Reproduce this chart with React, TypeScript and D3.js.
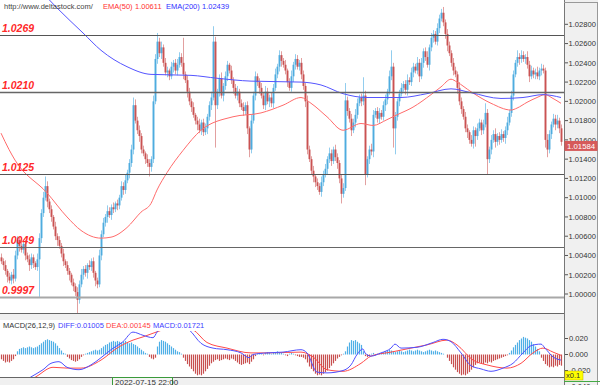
import React, { useRef, useEffect } from 'react';
import * as d3 from 'd3';

// ---- data (prices in pips above 1.0000) ----
const firstOpenPips = 38;
const closePips = [34,30,24,18,14,20,16, 40,56, 50,46,52, 40,36,30,38,32,28,36, 58,84,100, 112,96, 88,80,70,60,56, 50,42,34,30,24, 20,12,8,2,-6, 10,20,26,22,30, 28,34,22,14,10, 40,62,74, 80,86,82,90,88,94,92, 100,112,108,118,126, 136,150,196, 180,170,164,150,146,140,136,132, 140, 200, 244, 262,250,256, 240,230,232,226, 236,240,232,238,246,240, 228, 222,210,200,194,186,180, 176,170,178,168,172, 184,196,204, 262, 196, 210,224,206,216, 226,238,232, 222,214,206,210,198,194,190,196, 172,150, 180,206,226,220,214, 206,196,210,200,204,198, 214,228,236,248,242,238, 232,220,214, 226,238,244,236,240, 228,216,200, 150, 140,128,122,116,112,106, 116,124,130, 140,146,138,150,142,136, 120,104, 110, 201, 190,182,170,178,186, 198,204,200,206, 124, 140,150,148, 186,190,182,188,184, 196,202,210, 226,236, 172, 184,200,208,214, 218,212,222,220, 230,236,232,240, 226, 240,252,246,238, 256,266,270, 262, 276,286,292, 282,270,258,250, 240,232,228, 214,200,192, 184,172,168, 160,156, 170,164, 172,178,170,176, 188, 140, 150,160,166, 158,164,160,166,162, 170,178,188, 206, 228, 240,246,244, 248,244,246, 238,226, 232,228,230,226,232, 234, 232, 160, 150,166,176, 182,176,180, 172,158];
const upperWick = [4,3,5,2,4,3,6,5,4,3, 5,2,4,3,5,4,3,2,6,5, 4,6,10,5,3,4,2,5,3,4, 3,5,2,4,3,2,4,3,5,4, 6,3,4,2,5,3,4,2,3,6, 4,5,3,6,4,3,5,2,4,3, 5,4,6,3,4,5,8,6,4,5, 3,4,2,5,4,3,6,5,9,4, 6,3,5,4,2,5,3,4,6,5, 4,26,3,5,4,3,5,2,4,6, 3,4,5,3,4,6,16,5,3,4, 6,3,5,4,2,5,3,4,6,3, 4,5,3,4,2,6,4,5,3,4, 5,3,6,4,3,5,4,6,3,5, 4,3,5,2,4,6,3,5,4,3, 5,4,3,6,4,3,5,2,4,3, 6,4,5,3,6,4,3,5,4,3, 4,5,18,4,3,5,4,6,5,3, 4,19,5,3,4,6,5,3,4,5, 3,4,5,3,6,17,4,5,3,4, 5,3,4,6,3,5,4,3,6,4, 5,3,4,6,3,5,4,3,5,4, 4,6,3,5,4,3,5,4,3,6, 4,3,5,4,2,5,4,3,5,4, 3,5,10,4,3,5,4,6,3,4, 5,3,4,6,3,5,4,3,7,4, 5,4,3,6,4,5,3,4,6,3, 5,4,3,6,4,3,5,4,6,3, 4];
const lowerWick = [3,5,4,6,3,4,5,3,4,6, 3,4,5,3,6,4,5,3,4,39, 5,4,3,6,4,5,3,4,6,3, 4,5,3,4,6,3,5,4,14,4, 3,5,4,6,3,4,5,6,4,3, 5,3,4,6,3,5,4,3,5,4, 3,5,4,3,6,4,5,3,4,6, 4,3,5,4,10,5,4,3,5,4, 6,4,3,5,4,3,6,4,5,3, 4,5,3,6,4,5,3,4,6,3, 5,4,3,6,4,5,3,44,4,5, 3,6,4,5,3,4,6,3,5,4, 3,5,4,6,8,4,3,5,4,6, 3,4,5,3,6,4,5,3,4,5, 6,3,4,5,3,4,6,5,3,4, 5,4,6,5,3,4,6,5,4,3, 5,4,3,6,4,5,3,4,6,5, 10,4,3,5,4,6,3,5,4,3, 5,4,11,3,5,4,6,3,4,5, 3,4,6,5,3,4,20,27,4,5, 3,4,5,6,3,4,5,3,4,6, 3,5,4,3,6,4,5,3,4,5, 3,4,5,6,3,4,5,3,6,4, 5,3,4,6,4,3,5,11,4,3, 5,4,3,16,4,5,3,6,4,5, 3,4,6,5,3,4,5,3,4,6, 4,3,5,4,6,3,4,5,3,4, 5,3,8,8,4,5,3,6,4,5, 4];

const ema50Idx = [0,4,7,23,33,40,50,55,63,70,75,78,83,91,100,116,130,141,150,155,163,171,180,186,193,198,206,215,220,225,228,235,245,255,258,263,268,272,276,280];
const ema50Pips = [167,150,139,105,80,66,58,59,69,85,94,108,126,149,170,184,188,196,204,198,184,170,177,175,181,186,194,207,215,223,220,210,198,191,193,199,204,207,203,198];
const ema200Idx = [22,28,41,50,63,75,95,108,125,150,160,171,183,200,213,225,235,250,261,271,280];
const ema200Pips = [310,297,271,253,236,228,227,224,221,220,217,208,204,204,208,213,209,203,204,207,204];

const levelValues = [1.0269, 1.0210, 1.0125, 1.0049, 0.9997];
const levelLabels = ['1.0269', '1.0210', '1.0125', '1.0049', '0.9997'];
const priceTicks = [1.028,1.026,1.024,1.022,1.020,1.018,1.016,1.014,1.012,1.010,1.008,1.006,1.004,1.002,1.000];
const lastPrice = 1.01584;

const macdHist = [-0.006,-0.008,-0.010,-0.009,-0.010,-0.008,-0.006, -0.002,
 0.004,0.007,0.008,0.009,0.008,0.009,0.010,0.009,0.008,0.009,0.010,
 0.012,0.014,0.016,0.018,0.019,0.018,0.017,0.016,0.014,0.011,0.008,0.005,
 0.002,0.001, -0.003,-0.005,-0.007,-0.008,-0.009,-0.008,-0.006,
 -0.003,-0.001,0.001,0.002, 0.003,0.004,0.005,0.006,0.005,0.006,
 0.008,0.010,0.012,0.013,0.015,0.016,0.017,0.016,0.017,0.016,0.015,0.016,0.017,0.015,0.014,0.015,0.013,0.012,0.010,0.008,
 0.006,0.004,0.002,0.001, -0.003,-0.005,-0.006,-0.004,
 0.010,0.016,0.018,0.017,0.016,0.014, 0.012,0.010,0.008,0.006,0.004,0.003,0.001,
 -0.004,-0.008,-0.012,-0.015,-0.018,-0.021,-0.024,-0.026,-0.025,-0.026,-0.024,-0.021,-0.018,-0.014,-0.011,-0.009,
 -0.007,-0.006,-0.008,-0.007,-0.006,-0.005,-0.006,-0.007,-0.005,-0.006,
 -0.008,-0.010,-0.012,-0.013,-0.012,-0.011,-0.010,-0.012,-0.009,-0.006,
 -0.002,0.001,0.002,0.001,-0.001,0.002,0.003,0.002,0.001,0.002,0.003,0.004,0.003,0.002,0.001,-0.001,-0.002,0.001,0.002,0.001,-0.001,-0.002,-0.003,
 -0.003,-0.004,-0.006,-0.010,-0.015,
 -0.018,-0.021,-0.024,-0.026,-0.025,-0.026,-0.024,-0.022,-0.020,-0.017,-0.014,-0.011,-0.008,-0.005,
 -0.003,-0.001,0.001,0.004, 0.010,0.015,0.018,0.017,0.018,0.016,0.014,0.012,
 0.004,-0.002,-0.003,-0.002,0.001,0.002,-0.001,0.001,0.002,
 0.002,0.003,0.004,0.005,0.006,0.005,0.004,0.003,0.004,0.005,0.004,0.003,0.004,0.005,0.006,0.005,0.004,0.005,0.006,0.005,0.004,0.003,0.004,0.005,0.006,0.005,0.004,0.005,0.004,0.003,0.002,0.001,0.000,
 -0.004,-0.008,-0.012,-0.016,-0.019,-0.022,-0.024,-0.026,-0.025,-0.026,-0.024,-0.022,-0.019,-0.016,-0.013,-0.011,
 -0.010,-0.011,-0.012,-0.010,-0.011,-0.009,-0.010,-0.008,-0.007,-0.006,-0.005,-0.004,-0.003,-0.002,-0.001,
 0.002,0.005,0.009,0.012,0.015,0.018,0.020,0.022,0.021,0.020,0.018,0.016,0.013,0.010,0.007,0.004,
 -0.004,-0.008,-0.012,-0.014,-0.016,-0.015,-0.016,-0.014,-0.015,-0.013,-0.014];

const diffIdx = [0,8,15,21,25,29,33,39,45,50,55,61,66,71,76,78,80,85,90,94,100,106,113,120,124,126,133,141,150,153,158,163,171,175,178,181,182,185,190,195,197,200,208,216,221,225,230,235,240,245,251,256,261,265,270,272,276,280];
const diffVals = [-0.05,-0.04,-0.028,-0.019,-0.011,-0.009,-0.016,-0.019,-0.013,-0.004,0.006,0.016,0.028,0.024,0.021,0.028,0.035,0.038,0.036,0.031,0.014,0.008,0.006,0.002,-0.004,0.000,0.002,0.003,0.006,0.002,-0.022,-0.023,-0.020,-0.013,0.000,0.007,0.002,-0.002,0.002,0.008,0.013,0.008,0.009,0.015,0.019,0.016,0.002,-0.014,-0.018,-0.021,-0.017,-0.011,0.002,0.011,0.013,0.008,-0.003,-0.007];
const deaIdx = [0,10,18,26,33,40,50,58,66,71,81,88,96,103,113,125,133,150,156,163,171,180,185,195,205,213,223,228,236,243,253,260,266,271,276,280];
const deaVals = [-0.05,-0.04,-0.027,-0.016,-0.017,-0.017,-0.007,0.008,0.018,0.022,0.031,0.036,0.031,0.015,0.008,0.002,0.002,0.003,-0.003,-0.019,-0.021,-0.011,-0.002,0.003,0.008,0.012,0.018,0.012,-0.007,-0.013,-0.017,-0.011,0.002,0.008,0.003,-0.001];
const macdTicks = [0.02, 0, -0.02, -0.04];
const macdTickLabels = ['0.020', '0.000', '-0.020', '-0.040'];

const UP_BODY = '#42a6dc', UP_WICK = '#92cdee', DN_BODY = '#c64444', DN_WICK = '#e2a0a0';
const FONT = 'Liberation Sans, Arial, sans-serif';

export default function App() {
  const ref = useRef<SVGSVGElement>(null);
  useEffect(() => {
    const svg = d3.select(ref.current);
    svg.selectAll('*').remove();
    const N = closePips.length;
    const toP = (p: number) => 1 + p / 10000;
    const x = d3.scaleLinear().domain([0, N - 1]).range([1, 561]);
    const y = d3.scaleLinear().domain([1.0, 1.028]).range([294, 24.3]);
    const ym = d3.scaleLinear().domain([-0.02, 0.02]).range([370.5, 338.5]);
    const px = (i: number) => Math.round(x(i));

    const defs = svg.append('defs');
    defs.append('clipPath').attr('id', 'mainClip').append('rect').attr('x', 0).attr('y', 0).attr('width', 564).attr('height', 313);
    defs.append('clipPath').attr('id', 'macdClip').append('rect').attr('x', 0).attr('y', 320).attr('width', 564).attr('height', 57);

    svg.append('rect').attr('width', 600).attr('height', 385).attr('fill', '#fff');
    svg.append('rect').attr('x', 0).attr('y', 313).attr('width', 564).attr('height', 7).attr('fill', '#f0f0f0');
    svg.append('rect').attr('x', 0).attr('y', 377).attr('width', 564).attr('height', 8).attr('fill', '#f0f0f0');

    const main = svg.append('g').attr('clip-path', 'url(#mainClip)');
    const candles = closePips.map((c, i) => {
      const o = i === 0 ? firstOpenPips : closePips[i - 1];
      return { i, o: toP(o), c: toP(c), h: toP(Math.max(o, c) + upperWick[i]), l: toP(Math.min(o, c) - lowerWick[i]) };
    });
    main.selectAll('line.wick').data(candles).enter().append('line')
      .attr('x1', d => px(d.i) + 0.5).attr('x2', d => px(d.i) + 0.5)
      .attr('y1', d => y(d.h)).attr('y2', d => y(d.l))
      .attr('stroke', d => d.c >= d.o ? UP_WICK : DN_WICK).attr('stroke-width', 1);
    main.selectAll('rect.body').data(candles).enter().append('rect')
      .attr('x', d => px(d.i) - 0.5).attr('width', 2)
      .attr('y', d => y(Math.max(d.o, d.c)))
      .attr('height', d => Math.max(1, Math.abs(y(d.o) - y(d.c))))
      .attr('fill', d => d.c >= d.o ? UP_BODY : DN_BODY).attr('opacity', 0.85);

    const lineGen = d3.line<[number, number]>().x(d => x(d[0])).y(d => y(toP(d[1]))).curve(d3.curveMonotoneX);
    main.append('path').datum(ema50Idx.map((v, k) => [v, ema50Pips[k]] as [number, number]))
      .attr('d', lineGen).attr('fill', 'none').attr('stroke', '#ff6b6b').attr('stroke-width', 1);
    main.append('path').datum(ema200Idx.map((v, k) => [v, ema200Pips[k]] as [number, number]))
      .attr('d', lineGen).attr('fill', 'none').attr('stroke', '#5555ff').attr('stroke-width', 1);

    const levelStroke = ['#555', '#666', '#555', '#666', '#a8a8a8'];
    const levelWidth = [1, 1.3, 1, 1.2, 2];
    levelValues.forEach((v, k) => {
      const yy = Math.round(y(v)) + 0.5;
      main.append('line').attr('x1', 0).attr('x2', 564).attr('y1', yy).attr('y2', yy)
        .attr('stroke', levelStroke[k]).attr('stroke-width', levelWidth[k]);
      main.append('text').attr('x', 2).attr('y', yy - 4).text(levelLabels[k])
        .attr('font-family', FONT).attr('font-size', 10.5).attr('font-weight', 'bold').attr('font-style', 'italic').attr('fill', '#ff2a2a');
    });

    const hdr = svg.append('text').attr('y', 9).attr('font-family', FONT).attr('font-size', 7.5);
    hdr.append('tspan').attr('x', 4).attr('fill', '#444').text('http://www.deltastock.com/');
    hdr.append('tspan').attr('x', 103).attr('fill', '#ff3030').text('EMA(50)');
    hdr.append('tspan').attr('x', 135).attr('fill', '#ff3030').text('1.00611');
    hdr.append('tspan').attr('x', 166).attr('fill', '#3030ff').text('EMA(200)');
    hdr.append('tspan').attr('x', 202).attr('fill', '#3030ff').text('1.02439');

    const mg = svg.append('g').attr('clip-path', 'url(#macdClip)');
    mg.selectAll('line.hist').data(macdHist).enter().append('line')
      .attr('x1', (d, i) => px(i) + 0.5).attr('x2', (d, i) => px(i) + 0.5)
      .attr('y1', ym(0)).attr('y2', d => ym(d))
      .attr('stroke', d => d >= 0 ? '#4fb0e6' : '#c85050').attr('stroke-width', 1.2);
    const mLine = d3.line<[number, number]>().x(d => x(d[0])).y(d => ym(d[1])).curve(d3.curveMonotoneX);
    mg.append('path').datum(deaIdx.map((v, k) => [v, deaVals[k]] as [number, number]))
      .attr('d', mLine).attr('fill', 'none').attr('stroke', '#ff4a4a').attr('stroke-width', 1);
    mg.append('path').datum(diffIdx.map((v, k) => [v, diffVals[k]] as [number, number]))
      .attr('d', mLine).attr('fill', 'none').attr('stroke', '#5050ff').attr('stroke-width', 1);

    svg.append('rect').attr('x', 0).attr('y', 320).attr('width', 200).attr('height', 11).attr('fill', '#fff');
    const mt = svg.append('text').attr('y', 328).attr('font-family', FONT).attr('font-size', 7.5);
    mt.append('tspan').attr('x', 3).attr('fill', '#333').text('MACD(26,12,9)');
    mt.append('tspan').attr('x', 58).attr('fill', '#4040ff').text('DIFF:0.01005');
    mt.append('tspan').attr('x', 106).attr('fill', '#ff4040').text('DEA:0.00145');
    mt.append('tspan').attr('x', 153).attr('fill', '#4040ff').text('MACD:0.01721');

    svg.append('line').attr('x1', 0).attr('x2', 564).attr('y1', 313.5).attr('y2', 313.5).attr('stroke', '#666');
    svg.append('line').attr('x1', 0).attr('x2', 564).attr('y1', 377.5).attr('y2', 377.5).attr('stroke', '#666');

    svg.append('rect').attr('x', 564).attr('y', 0).attr('width', 34).attr('height', 385).attr('fill', '#f0f0f0');
    svg.append('line').attr('x1', 564.5).attr('x2', 564.5).attr('y1', 0).attr('y2', 385).attr('stroke', '#777');
    svg.append('line').attr('x1', 597.5).attr('x2', 597.5).attr('y1', 2).attr('y2', 385).attr('stroke', '#999');
    svg.append('line').attr('x1', 564).attr('x2', 598).attr('y1', 2.5).attr('y2', 2.5).attr('stroke', '#999');
    priceTicks.forEach(t => {
      svg.append('line').attr('x1', 565).attr('x2', 568).attr('y1', y(t)).attr('y2', y(t)).attr('stroke', '#555');
      svg.append('text').attr('x', 568.5).attr('y', y(t) + 2.8).text(t.toFixed(5))
        .attr('font-family', FONT).attr('font-size', 7.6).attr('fill', '#333');
    });
    macdTicks.forEach((t, k) => {
      svg.append('line').attr('x1', 565).attr('x2', 568).attr('y1', ym(t)).attr('y2', ym(t)).attr('stroke', '#555');
      svg.append('text').attr('x', 569).attr('y', ym(t) + 2.8).text(macdTickLabels[k])
        .attr('font-family', FONT).attr('font-size', 7.6).attr('fill', '#333');
    });
    svg.append('line').attr('x1', 564).attr('x2', 600).attr('y1', 381.5).attr('y2', 381.5).attr('stroke', '#4a4');
    svg.append('rect').attr('x', 564.5).attr('y', y(lastPrice) - 0.5).attr('width', 33).attr('height', 10).attr('fill', '#d65a5a');
    svg.append('text').attr('x', 567).attr('y', y(lastPrice) + 7.3).text(lastPrice.toFixed(5))
      .attr('font-family', FONT).attr('font-size', 7.8).attr('fill', '#fff');
    svg.append('rect').attr('x', 565).attr('y', 371).attr('width', 18).attr('height', 9).attr('fill', '#ffff00').attr('stroke', '#bbb000').attr('stroke-width', 0.5);
    svg.append('text').attr('x', 566).attr('y', 378).text('x0.1').attr('font-family', FONT).attr('font-size', 7.5).attr('fill', '#333');
    svg.append('rect').attr('x', 112.5).attr('y', 377.5).attr('width', 60).attr('height', 10).attr('fill', '#f4f4f4').attr('stroke', '#3a9a3a');
    svg.append('text').attr('x', 115).attr('y', 384.5).text('2022-07-15 22:00').attr('font-family', FONT).attr('font-size', 8).attr('fill', '#333');
  }, []);
  return <svg ref={ref} width={600} height={385} style={{ position: 'absolute', left: 0, top: 0 }} />;
}
